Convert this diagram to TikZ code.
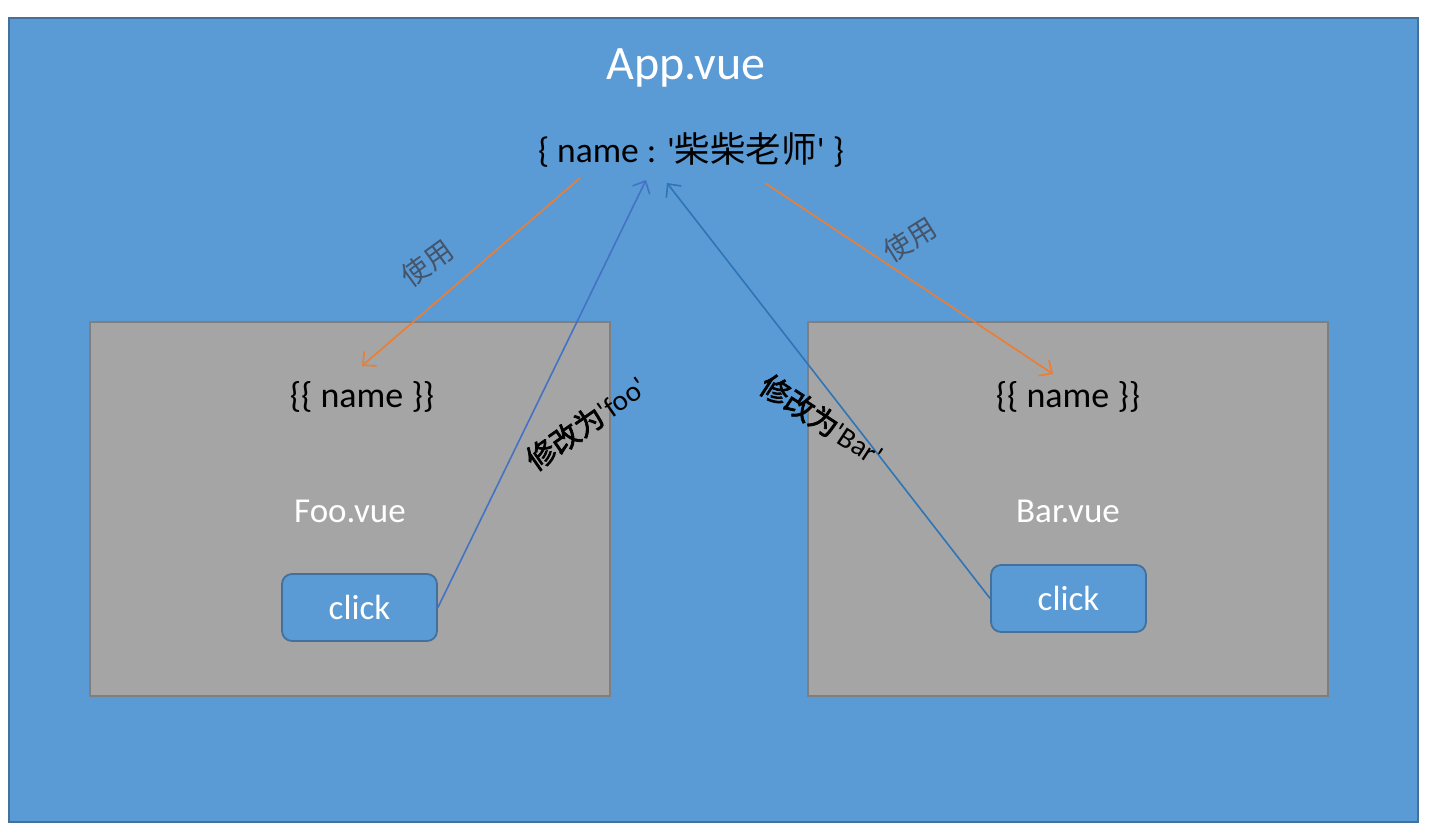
\documentclass[tikz,border=0pt]{standalone}
\usepackage{fontspec}
\setmainfont{Carlito}[Ligatures=TeXOff]
\newfontfamily\cjk{Noto Sans CJK SC}
\newfontfamily\cjkb[FakeBold=2.5]{Noto Sans CJK SC}
\usetikzlibrary{arrows.meta}
\definecolor{appblue}{HTML}{5B9BD5}
\definecolor{appedge}{HTML}{41719C}
\definecolor{boxgrey}{HTML}{A5A5A5}
\definecolor{boxedge}{HTML}{7F7F7F}
\definecolor{useorange}{HTML}{ED7D31}
\definecolor{leftblue}{HTML}{4472C4}
\definecolor{rightblue}{HTML}{2E75B6}
\definecolor{uselabel}{HTML}{44546A}
\tikzset{
  comp/.style={draw=boxedge, fill=boxgrey, line width=1.5pt},
  clickbtn/.style={draw=appedge, fill=appblue, line width=1.8pt, rounded corners=10pt},
  usearrow/.style={draw=useorange, line width=1.6pt, -{Straight Barb[length=10pt,width=19pt,line width=1.6pt]}},
  setarrow/.style={line width=1.6pt, -{Straight Barb[length=10pt,width=19pt,line width=1.6pt]}},
  whitetxt/.style={text=white, inner sep=0pt},
  blacktxt/.style={text=black, inner sep=0pt},
}
\begin{document}
\begin{tikzpicture}[x=1pt,y=-1pt]
\useasboundingbox (0,0) rectangle (1429,831);
\fill[white] (0,0) rectangle (1429,831);
\draw[draw=appedge, fill=appblue, line width=2pt] (9,18) rectangle (1418,822);
\draw[comp] (90,322) rectangle (610,696);
\draw[comp] (808,322) rectangle (1328,696);
\node[clickbtn, minimum width=155pt, minimum height=67pt] (click1) at (359.5,607.5) {};
\node[clickbtn, minimum width=155pt, minimum height=67pt] (click2) at (1068.5,598.5) {};
\node[whitetxt, font=\fontsize{35}{40}\selectfont] at (click1) {click};
\node[whitetxt, font=\fontsize{35}{40}\selectfont] at (click2) {click};

\node[whitetxt, font=\fontsize{48}{54}\selectfont] (app) at (686,68) {App.vue};
\node[blacktxt, font=\fontsize{35.5}{40}\selectfont] (data) at (691,150) {\{ name : '{\cjk 柴柴老师}' \}};
\node[blacktxt, font=\fontsize{36}{40}\selectfont] (n1) at (362,397) {\{\{ name \}\}};
\node[blacktxt, font=\fontsize{36}{40}\selectfont] (n2) at (1068,397) {\{\{ name \}\}};
\node[whitetxt, font=\fontsize{35}{40}\selectfont] (foo) at (350,511) {Foo.vue};
\node[whitetxt, font=\fontsize{35}{40}\selectfont] (bar) at (1068,511) {Bar.vue};

\coordinate (uL0) at (580,178);
\coordinate (uL1) at (362,366);
\coordinate (uR0) at (765,183);
\coordinate (uR1) at (1053,374);
\coordinate (sL1) at (646,180);
\coordinate (sR1) at (667,183);

\draw[usearrow] (uL0) -- (uL1);
\draw[usearrow] (uR0) -- (uR1);
\draw[setarrow, draw=leftblue] (click1.east) -- (sL1);
\draw[setarrow, draw=rightblue] (click2.west) -- (sR1);

\node[text=uselabel, inner sep=0pt, rotate=36, font=\cjk\fontsize{28}{32}\selectfont] at (427,263) {使用};
\node[text=uselabel, inner sep=0pt, rotate=32, font=\cjk\fontsize{28}{32}\selectfont] at (910,240) {使用};
\node[blacktxt, rotate=35, font=\fontsize{29}{32}\selectfont] at (586,423) {{\cjkb 修改为}'foo'};
\node[blacktxt, rotate=-33, font=\fontsize{29}{32}\selectfont] at (822,420) {{\cjkb 修改为}'Bar'};
\end{tikzpicture}
\end{document}
